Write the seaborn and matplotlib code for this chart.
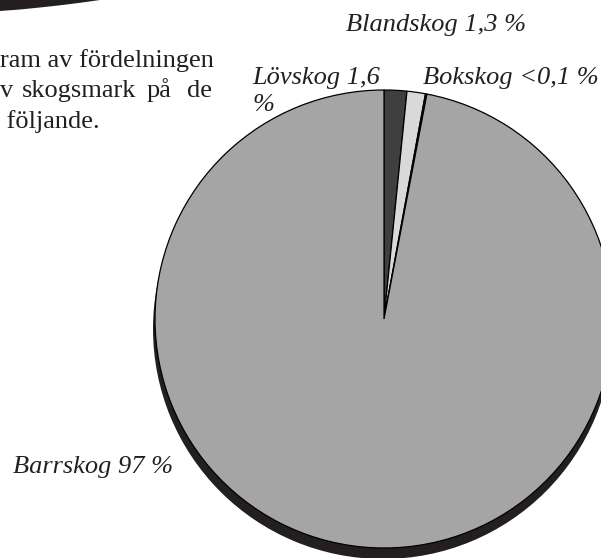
import matplotlib
matplotlib.use("Agg")
import matplotlib.pyplot as plt
import seaborn as sns
from matplotlib.patches import Polygon

# ---- data ----
categories = ["Lövskog", "Blandskog", "Bokskog", "Barrskog"]
values = [1.6, 1.3, 0.1, 97.0]
labels = ["Lövskog 1,6\n%", "Blandskog 1,3 %", "Bokskog <0,1 %", "Barrskog 97 %"]
colors = ["#3f3f3f", "#d9d9d9", "#6e6e6e", "#a5a5a5"]
body_lines = ["ram av fördelningen", "v skogsmark på de", " följande."]

sns.set_theme(style="white")
plt.rcParams["font.family"] = ["Liberation Serif", "DejaVu Serif"]

W, H = 601, 558
fig = plt.figure(figsize=(W / 100, H / 100), dpi=100)
ax = fig.add_axes([0, 0, 1, 1])


def Y(py):
    return H - py


ink = "#231f20"
cx, cy, r = 384, 319, 229

# shadow / extrusion
ax.pie([sum(values)], colors=[ink], radius=r + 1, center=(cx - 1, Y(cy + 10)),
       wedgeprops=dict(linewidth=0), frame=True)
# main pie
ax.pie(values, colors=sns.color_palette(colors), radius=r, center=(cx, Y(cy)),
       startangle=90, counterclock=False,
       wedgeprops=dict(edgecolor="black", linewidth=0.9), frame=True)
ax.set_xlim(0, W)
ax.set_ylim(0, H)
ax.set_aspect("auto")
ax.axis("off")

# decorative dark shape at top-left (edge of an element above the crop)
ax.add_patch(Polygon([(0, Y(0)), (0, Y(11)), (20, Y(9.5)), (40, Y(7.5)),
                      (60, Y(5.3)), (80, Y(2.8)), (100, Y(0))],
                     closed=True, facecolor=ink, edgecolor="none"))

# body text (clipped paragraph)
fs = 19
ax.text(0, Y(67), body_lines[0], fontsize=fs, color=ink, va="baseline", ha="left")
words2 = body_lines[1].split(" ")
xs2 = [0, 22, 147, 187]
for wd, x in zip(words2, xs2):
    ax.text(x, Y(97), wd, fontsize=fs, color=ink, va="baseline", ha="left")
ax.text(0, Y(128), body_lines[2], fontsize=fs, color=ink, va="baseline", ha="left")

# labels
lab_style = dict(fontsize=fs, color=ink, style="italic", va="baseline", ha="left")
ax.text(252, Y(84), "Lövskog 1,6", **lab_style)
ax.text(252, Y(111), "%", **lab_style)
ax.text(346, Y(31), labels[1], **lab_style)
ax.text(423, Y(84), labels[2], **lab_style)
ax.text(13, Y(473), labels[3], **lab_style)

fig.savefig("out.png", dpi=100)
